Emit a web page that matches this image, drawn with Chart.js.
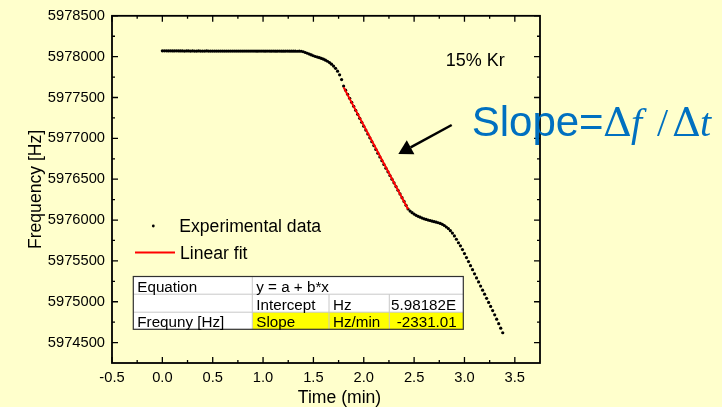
<!DOCTYPE html>
<html>
<head>
<meta charset="utf-8">
<title>QCM frequency vs time</title>
<script src="https://cdn.jsdelivr.net/npm/chart.js@4.4.1/dist/chart.umd.min.js"></script>
<style>
  html, body { margin: 0; padding: 0; background: #ffffcc; }
  #freqChart { display: block; }
</style>
</head>
<body>
<canvas id="freqChart" width="722" height="407"></canvas>
<script>
// one reading every 0.02 min, first reading at t = 0
var sampleStart = 0;
var sampleStep = 0.02;

// frequency readings [Hz], 10 per row
var frequency = [
    5978072, 5978071, 5978071, 5978070, 5978071, 5978070, 5978070, 5978071, 5978070, 5978070,
    5978070, 5978069, 5978070, 5978070, 5978069, 5978070, 5978069, 5978069, 5978070, 5978069,
    5978069, 5978069, 5978070, 5978069, 5978069, 5978069, 5978068, 5978069, 5978069, 5978069,
    5978069, 5978068, 5978069, 5978069, 5978068, 5978069, 5978068, 5978068, 5978069, 5978068,
    5978068, 5978068, 5978069, 5978068, 5978068, 5978068, 5978068, 5978067, 5978068, 5978068,
    5978068, 5978067, 5978068, 5978068, 5978067, 5978068, 5978067, 5978067, 5978068, 5978067,
    5978067, 5978067, 5978068, 5978067, 5978067, 5978067, 5978067, 5978066, 5978067, 5978066,
    5978060, 5978051, 5978042, 5978032, 5978021, 5978011, 5978002, 5977995, 5977988, 5977979,
    5977969, 5977957, 5977944, 5977928, 5977908, 5977885, 5977857, 5977822, 5977778, 5977720,
    5977640, 5977590, 5977540, 5977490, 5977441, 5977392, 5977343, 5977294, 5977245, 5977197,
    5977149, 5977101, 5977053, 5977006, 5976959, 5976912, 5976865, 5976819, 5976773, 5976727,
    5976681, 5976635, 5976590, 5976545, 5976500, 5976455, 5976410, 5976365, 5976320, 5976274,
    5976228, 5976180, 5976135, 5976110, 5976090, 5976073, 5976058, 5976046, 5976035, 5976024,
    5976015, 5976007, 5976000, 5975993, 5975986, 5975980, 5975974, 5975967, 5975958, 5975947,
    5975933, 5975915, 5975895, 5975870, 5975840, 5975805, 5975765, 5975722, 5975684, 5975638,
    5975590, 5975541, 5975492, 5975442, 5975392, 5975342, 5975292, 5975242, 5975192, 5975142,
    5975092, 5975042, 5974992, 5974942, 5974892, 5974840, 5974786, 5974731, 5974676, 5974620
];

// linear fit y = a + b*x over the steep part
var fitIntercept = 5981820;   // Hz
var fitSlope = -2331.01;      // Hz/min
var fitRange = [1.80, 2.44];  // min

var xTicks = [-0.5, 0.0, 0.5, 1.0, 1.5, 2.0, 2.5, 3.0, 3.5];
var yTicks = [5974500, 5975000, 5975500, 5976000, 5976500, 5977000, 5977500, 5978000, 5978500];

// fit results box
var tableRows = [
    ['Equation', 'y = a + b*x', '', ''],
    ['', 'Intercept', 'Hz', '5.98182E'],
    ['Frequny [Hz]', 'Slope', 'Hz/min', '-2331.01']
];

var points = frequency.map(function (f, i) {
    return { x: sampleStart + i * sampleStep, y: f };
});
var fitLine = fitRange.map(function (t) {
    return { x: t, y: fitIntercept + fitSlope * t };
});

var textFont = '"Liberation Sans", Arial, sans-serif';

var framePlugin = {
    id: 'frame',
    beforeDraw: function (chart) {
        var ctx = chart.ctx;
        ctx.save();
        ctx.fillStyle = '#ffffcc';
        ctx.fillRect(0, 0, chart.width, chart.height);
        ctx.restore();
    },
    afterDraw: function (chart) {
        var ctx = chart.ctx;
        var a = chart.chartArea;
        var xs = chart.scales.x;
        var ys = chart.scales.y;
        ctx.save();

        // box with inward ticks on all four sides
        ctx.strokeStyle = '#000';
        ctx.lineWidth = 1.3;
        ctx.beginPath();
        xTicks.forEach(function (v) {
            var px = xs.getPixelForValue(v);
            ctx.moveTo(px, a.bottom); ctx.lineTo(px, a.bottom - 6);
            ctx.moveTo(px, a.top); ctx.lineTo(px, a.top + 6);
            var mx = xs.getPixelForValue(v + 0.25);
            if (mx < a.right - 1) {
                ctx.moveTo(mx, a.bottom); ctx.lineTo(mx, a.bottom - 3);
                ctx.moveTo(mx, a.top); ctx.lineTo(mx, a.top + 3);
            }
        });
        yTicks.forEach(function (v) {
            var py = ys.getPixelForValue(v);
            ctx.moveTo(a.left, py); ctx.lineTo(a.left + 6, py);
            ctx.moveTo(a.right, py); ctx.lineTo(a.right - 6, py);
            var my = ys.getPixelForValue(v - 250);
            if (my < a.bottom - 1) {
                ctx.moveTo(a.left, my); ctx.lineTo(a.left + 3, my);
                ctx.moveTo(a.right, my); ctx.lineTo(a.right - 3, my);
            }
        });
        ctx.stroke();
        ctx.lineWidth = 1.8;
        ctx.strokeRect(a.left, a.top, a.right - a.left, a.bottom - a.top);

        // axis titles
        ctx.fillStyle = '#000';
        ctx.font = '17.6px ' + textFont;
        ctx.textAlign = 'center';
        ctx.textBaseline = 'alphabetic';
        ctx.fillText('Time (min)', 339.5, 403);
        ctx.save();
        ctx.translate(40.5, (a.top + a.bottom) / 2);
        ctx.rotate(-Math.PI / 2);
        ctx.fillText('Frequency [Hz]', 0, 0);
        ctx.restore();

        // legend
        ctx.textAlign = 'left';
        ctx.beginPath();
        ctx.arc(153.3, 226, 1.4, 0, Math.PI * 2);
        ctx.fill();
        ctx.fillText('Experimental data', 179.3, 231.7);
        ctx.strokeStyle = '#ff0000';
        ctx.lineWidth = 2;
        ctx.beginPath();
        ctx.moveTo(135, 252.5); ctx.lineTo(175, 252.5);
        ctx.stroke();
        ctx.fillText('Linear fit', 180, 259);

        // fit table
        var cols = [133.3, 252.3, 329, 389.3, 463.3];
        var rows = [276.5, 294.2, 312.2, 329.3];
        ctx.fillStyle = '#ffffff';
        ctx.fillRect(cols[0], rows[0], cols[4] - cols[0], rows[3] - rows[0]);
        ctx.fillStyle = '#ffff00';
        ctx.fillRect(cols[1], rows[2], cols[4] - cols[1], rows[3] - rows[2]);
        ctx.strokeStyle = '#c8c8c8';
        ctx.lineWidth = 1;
        ctx.beginPath();
        ctx.moveTo(cols[0], rows[1]); ctx.lineTo(cols[4], rows[1]);
        ctx.moveTo(cols[0], rows[2]); ctx.lineTo(cols[4], rows[2]);
        ctx.moveTo(cols[1], rows[0]); ctx.lineTo(cols[1], rows[3]);
        ctx.moveTo(cols[2], rows[1]); ctx.lineTo(cols[2], rows[3]);
        ctx.moveTo(cols[3], rows[1]); ctx.lineTo(cols[3], rows[3]);
        ctx.stroke();
        ctx.strokeStyle = '#303030';
        ctx.lineWidth = 1.2;
        ctx.strokeRect(cols[0], rows[0], cols[4] - cols[0], rows[3] - rows[0]);
        ctx.fillStyle = '#000';
        ctx.font = '15.2px ' + textFont;
        var baselines = [292, 309.8, 327.3];
        tableRows.forEach(function (row, r) {
            row.forEach(function (txt, c) {
                if (!txt) return;
                if (r === 2 && c === 3) {
                    ctx.textAlign = 'right';
                    ctx.fillText(txt, cols[4] - 6.6, baselines[r]);
                } else {
                    ctx.textAlign = 'left';
                    ctx.fillText(txt, cols[c] + (c === 3 ? 1.8 : 4), baselines[r]);
                }
            });
        });

        // annotations
        ctx.textAlign = 'left';
        ctx.font = '18px ' + textFont;
        ctx.fillText('15% Kr', 445.7, 66);

        ctx.fillStyle = '#0070c0';
        ctx.font = '42px ' + textFont;
        ctx.fillText('Slope=', 471.7, 136);
        ctx.font = '40px "DejaVu Serif", serif';
        ctx.fillText('\u0394', 603, 136);
        ctx.font = 'italic 40px "Liberation Serif", serif';
        ctx.fillText('f', 631, 136);
        ctx.font = '40px "Liberation Serif", serif';
        ctx.fillText('/', 657, 136);
        ctx.font = '40px "DejaVu Serif", serif';
        ctx.fillText('\u0394', 672, 136);
        ctx.font = 'italic 40px "Liberation Serif", serif';
        ctx.fillText('t', 700, 136);

        // arrow pointing at the linear part
        var sx = 451.7, sy = 125, tx = 398.3, ty = 154;
        var dx = tx - sx, dy = ty - sy, len = Math.sqrt(dx * dx + dy * dy);
        var ux = dx / len, uy = dy / len;
        var bx = tx - ux * 14, by = ty - uy * 14;
        ctx.strokeStyle = '#000';
        ctx.fillStyle = '#000';
        ctx.lineWidth = 2.5;
        ctx.beginPath();
        ctx.moveTo(sx, sy); ctx.lineTo(bx, by);
        ctx.stroke();
        ctx.beginPath();
        ctx.moveTo(tx, ty);
        ctx.lineTo(bx - uy * 8, by + ux * 8);
        ctx.lineTo(bx + uy * 8, by - ux * 8);
        ctx.closePath();
        ctx.fill();

        ctx.restore();
    }
};

var ctx = document.getElementById('freqChart').getContext('2d');
var freqChart = new Chart(ctx, {
    type: 'scatter',
    data: {
        datasets: [{
            label: 'Linear fit',
            type: 'line',
            data: fitLine,
            borderColor: '#ff0000',
            borderWidth: 2,
            pointRadius: 0,
            fill: false,
            order: 0
        }, {
            label: 'Experimental data',
            data: points,
            pointRadius: 1.6,
            pointBorderWidth: 0,
            pointBackgroundColor: '#000',
            borderColor: '#000',
            order: 1
        }]
    },
    options: {
        responsive: false,
        animation: false,
        events: [],
        layout: { padding: { left: 0, top: 15, right: 182, bottom: 0 } },
        plugins: {
            legend: { display: false },
            tooltip: { enabled: false }
        },
        scales: {
            x: {
                type: 'linear',
                min: -0.5,
                max: 3.75,
                grid: { display: false, drawTicks: false },
                border: { display: false },
                afterBuildTicks: function (axis) {
                    axis.ticks = xTicks.map(function (v) { return { value: v }; });
                },
                afterFit: function (axis) { axis.height = 44; },
                ticks: {
                    padding: 6,
                    maxRotation: 0,
                    autoSkip: false,
                    color: '#000',
                    font: { family: textFont, size: 14.7 },
                    callback: function (v) { return Number(v).toFixed(1); }
                }
            },
            y: {
                type: 'linear',
                min: 5974250,
                max: 5978500,
                grid: { display: false, drawTicks: false },
                border: { display: false },
                afterBuildTicks: function (axis) {
                    axis.ticks = yTicks.map(function (v) { return { value: v }; });
                },
                afterFit: function (axis) { axis.width = 112; },
                ticks: {
                    padding: 7,
                    autoSkip: false,
                    color: '#000',
                    font: { family: textFont, size: 14.7 },
                    callback: function (v) { return String(v); }
                }
            }
        }
    },
    plugins: [framePlugin]
});
</script>
</body>
</html>
